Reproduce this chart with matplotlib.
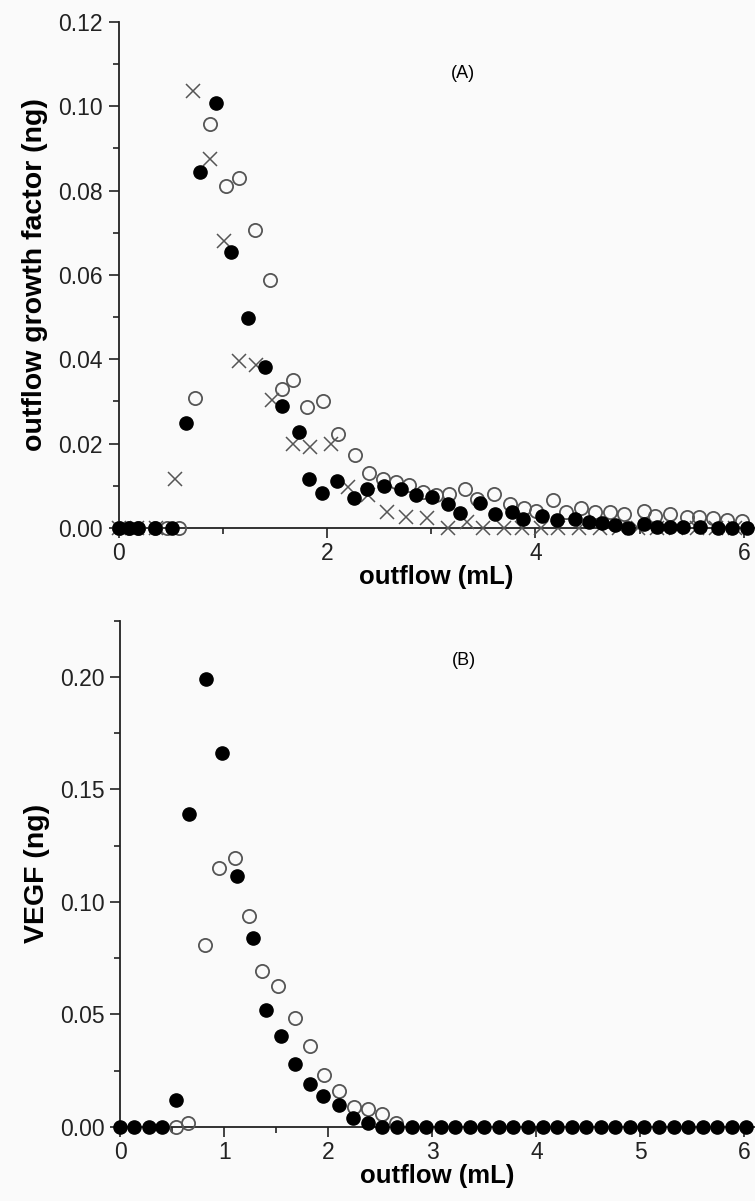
import matplotlib
matplotlib.use("Agg")
import matplotlib.pyplot as plt
from matplotlib.ticker import MultipleLocator, FormatStrFormatter

plt.rcParams['font.family'] = ['Liberation Sans', 'DejaVu Sans']

# ---------------- Panel A data ----------------
a_filled_x = [0, 0.10, 0.19, 0.35, 0.51, 0.65, 0.78, 0.94, 1.08, 1.245, 1.405, 1.566, 1.73, 1.83,
              1.95, 2.10, 2.255, 2.385, 2.545, 2.71, 2.85, 3.01, 3.166, 3.278, 3.47, 3.613, 3.773,
              3.885, 4.06, 4.21, 4.38, 4.51, 4.64, 4.765, 4.89, 5.04, 5.165, 5.29, 5.42, 5.58,
              5.757, 5.885, 6.03]
a_filled_y = [0, 0, 0, 0, 0, 0.0249, 0.0845, 0.1008, 0.0654, 0.0498, 0.0382, 0.0289, 0.0227, 0.0116,
              0.0084, 0.0111, 0.0070, 0.0092, 0.0100, 0.0092, 0.0077, 0.0073, 0.0057, 0.0035, 0.0059,
              0.0033, 0.0037, 0.0021, 0.0029, 0.0019, 0.0021, 0.0015, 0.0012, 0.0006, 0, 0.0010,
              0.0003, 0.0003, 0.0003, 0.0002, 0, 0, 0]

a_open_x = [0, 0.10, 0.19, 0.35, 0.465, 0.577, 0.731, 0.88, 1.03, 1.158, 1.31, 1.45, 1.566, 1.678,
            1.81, 1.96, 2.11, 2.27, 2.40, 2.535, 2.66, 2.79, 2.925, 3.05, 3.175, 3.32, 3.44, 3.605,
            3.76, 3.89, 4.01, 4.17, 4.29, 4.44, 4.57, 4.72, 4.85, 5.04, 5.15, 5.29, 5.45, 5.57,
            5.70, 5.84, 5.98]
a_open_y = [0, 0, 0, 0, 0, 0, 0.0308, 0.0957, 0.0811, 0.0829, 0.0706, 0.0587, 0.0329, 0.0352,
            0.0287, 0.0300, 0.0224, 0.0172, 0.0131, 0.0117, 0.0109, 0.0102, 0.0086, 0.0078, 0.0080,
            0.0093, 0.0069, 0.0081, 0.0057, 0.0047, 0.0041, 0.0067, 0.0039, 0.0047, 0.0037, 0.0039,
            0.0033, 0.0040, 0.0028, 0.0033, 0.0027, 0.0025, 0.0023, 0.0020, 0.0017]

a_cross_x = [0, 0.18, 0.36, 0.545, 0.717, 0.88, 1.014, 1.155, 1.315, 1.476, 1.678, 1.84, 2.04, 2.204,
             2.39, 2.576, 2.76, 2.96, 3.166, 3.34, 3.50, 3.70, 3.87, 4.05, 4.22, 4.42, 4.62, 4.80,
             4.98, 5.17, 5.35, 5.55, 5.73, 5.92]
a_cross_y = [0, 0, 0, 0.0117, 0.1036, 0.0874, 0.0680, 0.0397, 0.0387, 0.0303, 0.0200, 0.0192, 0.0200,
             0.0097, 0.0079, 0.0038, 0.0026, 0.0024, 0, 0.0013, 0, 0, 0, 0, 0, 0, 0, 0,
             0, 0, 0, 0, 0, 0]

# ---------------- Panel B data ----------------
b_filled_x = [0, 0.13, 0.27, 0.40, 0.53, 0.66, 0.82, 0.98, 1.125, 1.275, 1.40, 1.54, 1.68, 1.82,
              1.95, 2.10, 2.24, 2.38, 2.52, 2.66, 2.80, 2.94, 3.08, 3.22, 3.36, 3.50, 3.64, 3.78,
              3.92, 4.06, 4.20, 4.34, 4.48, 4.62, 4.76, 4.90, 5.04, 5.18, 5.32, 5.46, 5.60, 5.74,
              5.88, 6.02]
b_filled_y = [0, 0, 0, 0, 0.012, 0.139, 0.199, 0.166, 0.1116, 0.0838, 0.052, 0.0404, 0.028, 0.019,
              0.014, 0.010, 0.004, 0.002, 0, 0, 0, 0, 0, 0, 0, 0, 0, 0,
              0, 0, 0, 0, 0, 0, 0, 0, 0, 0, 0, 0, 0, 0, 0, 0]

b_open_x = [0.53, 0.65, 0.81, 0.945, 1.10, 1.235, 1.36, 1.515, 1.675, 1.82, 1.96, 2.10, 2.25, 2.38,
            2.52, 2.65]
b_open_y = [0, 0.002, 0.0808, 0.1153, 0.1196, 0.0937, 0.0694, 0.0627, 0.0483, 0.036, 0.023, 0.016,
            0.009, 0.008, 0.006, 0.002]

BG = '#fafafa'
fig = plt.figure(figsize=(7.55, 12.01), dpi=100, facecolor=BG)

axA = fig.add_axes([0.157, 0.5604, 0.842, 0.4213])
axB = fig.add_axes([0.1596, 0.0616, 0.840, 0.4216])

ms = 9.5
def style(ax):
    ax.set_facecolor(BG)
    for s in ['top', 'right']:
        ax.spines[s].set_visible(False)
    for s in ['left', 'bottom']:
        ax.spines[s].set_linewidth(1.3)
        ax.spines[s].set_color('#222222')
    ax.tick_params(which='major', direction='out', length=7, width=1.2, labelsize=16.5,
                   colors='#222222', pad=4.5)
    ax.tick_params(which='minor', direction='out', length=4.5, width=1.2, colors='#222222')
    ax.tick_params(axis='x', which='major', pad=3)

# Panel A
axA.plot(a_cross_x, a_cross_y, linestyle='none', marker='x', ms=9.5, mew=1.1,
         color='#555555', clip_on=False, zorder=3)
axA.plot(a_open_x, a_open_y, linestyle='none', marker='o', ms=ms, mfc='none', mew=1.3,
         mec='#555555', clip_on=False, zorder=4)
axA.plot(a_filled_x, a_filled_y, linestyle='none', marker='o', ms=ms, mfc='black',
         mec='black', clip_on=False, zorder=5)
axA.set_xlim(0, 6.1)
axA.set_ylim(0, 0.12)
axA.xaxis.set_major_locator(MultipleLocator(2))
axA.xaxis.set_minor_locator(MultipleLocator(1))
axA.yaxis.set_major_locator(MultipleLocator(0.02))
axA.yaxis.set_minor_locator(MultipleLocator(0.01))
axA.yaxis.set_major_formatter(FormatStrFormatter('%.2f'))
style(axA)
axA.set_xlabel('outflow (mL)', fontsize=18.5, fontweight='bold', labelpad=0)
axA.set_ylabel('outflow growth factor (ng)', fontsize=20.5, fontweight='bold', labelpad=7)
axA.text(3.3, 0.1077, '(A)', fontsize=13, ha='center', va='center')

# Panel B
axB.plot(b_open_x, b_open_y, linestyle='none', marker='o', ms=ms, mfc='none', mew=1.3,
         mec='#555555', clip_on=False, zorder=4)
axB.plot(b_filled_x, b_filled_y, linestyle='none', marker='o', ms=ms, mfc='black',
         mec='black', clip_on=False, zorder=5)
axB.set_xlim(0, 6.1)
axB.set_ylim(0, 0.225)
axB.xaxis.set_major_locator(MultipleLocator(1))
axB.xaxis.set_minor_locator(MultipleLocator(0.5))
axB.yaxis.set_major_locator(MultipleLocator(0.05))
axB.yaxis.set_minor_locator(MultipleLocator(0.025))
axB.yaxis.set_major_formatter(FormatStrFormatter('%.2f'))
style(axB)
axB.set_xlabel('outflow (mL)', fontsize=18.5, fontweight='bold', labelpad=0)
axB.set_ylabel('VEGF (ng)', fontsize=20.5, fontweight='bold', labelpad=7)
axB.text(3.3, 0.2075, '(B)', fontsize=13, ha='center', va='center')

fig.savefig('out.png', dpi=100, facecolor=BG)
